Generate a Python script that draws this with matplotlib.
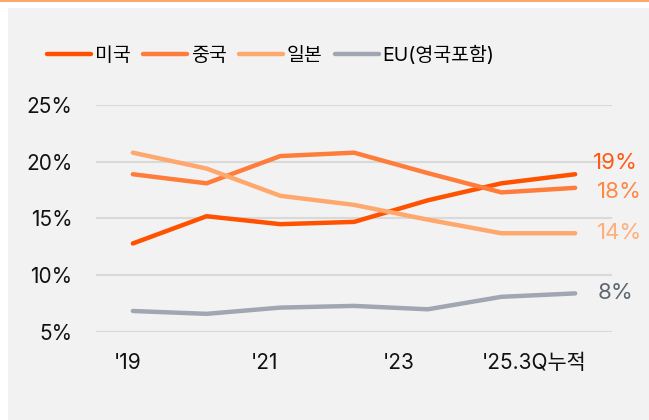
import numpy as np
import matplotlib
matplotlib.use("Agg")
import matplotlib.pyplot as plt
from matplotlib.patches import Rectangle
from matplotlib.lines import Line2D

plt.rcParams['font.family'] = ['Inter', 'Noto Sans CJK KR', 'DejaVu Sans']

# data (share, %)
years = [2019, 2020, 2021, 2022, 2023, 2024, 2025]
usa = [12.8, 15.2, 14.5, 14.7, 16.6, 18.1, 18.9]
china = [18.9, 18.1, 20.5, 20.8, 19.0, 17.3, 17.7]
japan = [20.8, 19.4, 17.0, 16.2, 14.9, 13.7, 13.7]
eu = [6.85, 6.6, 7.15, 7.3, 7.0, 8.1, 8.4]

names = ["미국", "중국", "일본", "EU(영국포함)"]
end_labels = ["19%", "18%", "14%", "8%"]
xtick_labels = ["'19", "'21", "'23", "'25.3Q누적"]
yticks = [5, 10, 15, 20, 25]

line_colors = ["#ff5200", "#ff7d3b", "#ffa86e", "#a1a7b2"]
label_colors = ["#ff5a14", "#ff8843", "#ffb07a", "#5e6670"]

W, H = 649, 420
fig = plt.figure(figsize=(W / 100, H / 100), dpi=100)
fig.patch.set_facecolor("white")
fig.patches.append(Rectangle((8 / W, 0), 1 - 8 / W, 1 - 8 / H, transform=fig.transFigure,
                             facecolor="#f2f2f2", edgecolor="none", zorder=-5))
fig.lines.append(Line2D([0, 1], [1 - 1 / H, 1 - 1 / H], transform=fig.transFigure,
                        color="#ffa86e", lw=1.5, zorder=-4))

ax = fig.add_axes([96 / W, (H - 332) / H, (612 - 96) / W, (332 - 105) / H])
ax.set_facecolor("none")

x = np.arange(len(years))
series = [usa, china, japan, eu]
handles = []
for s, c, n in zip(series, line_colors, names):
    h, = ax.plot(x, s, color=c, lw=3.2, solid_capstyle="round", solid_joinstyle="round",
                 clip_on=False, label=n, zorder=3)
    handles.append(h)

# end labels
offsets = [1.0, -0.4, 0, 0]
xoffs = [0.24, 0.3, 0.3, 0.3]
for s, lab, c, off, xo in zip(series, end_labels, label_colors, offsets, xoffs):
    ax.text(x[-1] + xo, s[-1] + off, lab, color=c, fontsize=16, va="center", ha="left")

ax.set_xlim(-0.5, 6.5)
ax.set_ylim(5, 25)
ax.set_yticks(yticks)
ax.set_yticklabels([f"{v}%" for v in yticks])
ax.set_xticks([-0.07, 1.79, 3.61, 5.44])
ax.set_xticklabels(xtick_labels)
ax.tick_params(axis="both", length=0, labelsize=15, colors="#111111")
ax.tick_params(axis="y", pad=17)
ax.tick_params(axis="x", pad=15)
ax.grid(axis="y", color="#d9d9d9", lw=1.5)
ax.set_axisbelow(True)
for sp in ax.spines.values():
    sp.set_visible(False)

fig.legend(handles=handles, loc="center left", bbox_to_anchor=(47 / W, 1 - 55 / H),
           ncol=4, frameon=False, fontsize=14, handlelength=2.25, handletextpad=0.2,
           columnspacing=0.65, borderpad=0, borderaxespad=0)

fig.savefig("out.png", dpi=100)
